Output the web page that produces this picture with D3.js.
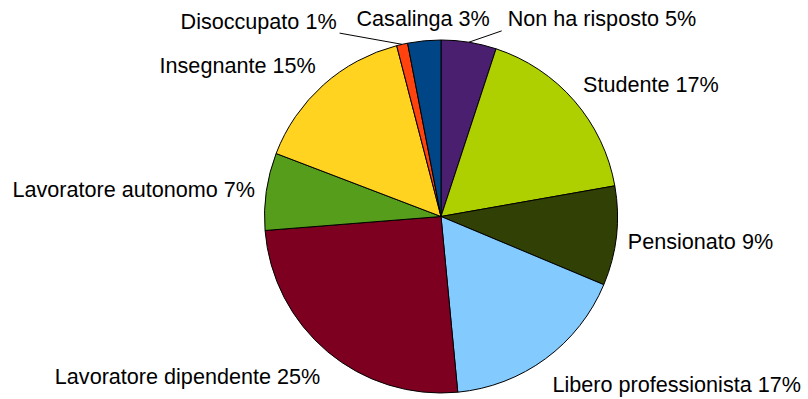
<!DOCTYPE html>
<html>
<head>
<meta charset="utf-8">
<script src="https://cdn.jsdelivr.net/npm/d3@7"></script>
<style>
  html, body { margin: 0; padding: 0; background: #ffffff; }
  svg { display: block; }
  text { font-family: "Liberation Sans", Arial, sans-serif; font-size: 21.6px; fill: #000; }
</style>
</head>
<body>
<svg id="chart" width="808" height="399"></svg>
<script>
// Professione dei rispondenti (percentuali)
const categories = [
  "Non ha risposto", "Studente", "Pensionato", "Libero professionista",
  "Lavoratore dipendente", "Lavoratore autonomo", "Insegnante",
  "Disoccupato", "Casalinga"
];
const percentages = [5, 17, 9, 17, 25, 7, 15, 1, 3];
const sliceColors = [
  "#4b1f6f", "#aecf00", "#314004", "#83caff",
  "#7e0021", "#579d1c", "#ffd320", "#ff420e", "#004586"
];
// Horizontal shift for labels of thin slices, which get a leader line
const leaderShift = { "Non ha risposto": 31, "Disoccupato": -60 };

const width = 808, height = 399;
const cx = 441, cy = 216.5, radius = 176.5;
const labelRadius = 188;

const svg = d3.select("#chart");
const g = svg.append("g").attr("transform", `translate(${cx},${cy})`);

const color = d3.scaleOrdinal().domain(categories).range(sliceColors);

const pie = d3.pie().sort(null).value(d => d.value);
const arcs = pie(categories.map((c, i) => ({ name: c, value: percentages[i] })));
const arc = d3.arc().innerRadius(0).outerRadius(radius);

g.selectAll("path.slice")
  .data(arcs)
  .join("path")
  .attr("class", "slice")
  .attr("d", arc)
  .attr("fill", d => color(d.data.name))
  .attr("stroke", "#000")
  .attr("stroke-width", 1)
  .attr("stroke-linejoin", "round");

// Labels placed just outside the rim, on the side of each slice's middle angle
arcs.forEach(d => {
  const mid = (d.startAngle + d.endAngle) / 2;
  const s = Math.sin(mid), c = Math.cos(mid);
  const px = s * labelRadius, py = -c * labelRadius;
  const label = `${d.data.name} ${d.data.value}%`;
  const shift = leaderShift[d.data.name];

  if (shift !== undefined) {
    const ex = px + shift, ey = py;
    g.append("line")
      .attr("x1", s * radius).attr("y1", -c * radius)
      .attr("x2", ex).attr("y2", ey)
      .attr("stroke", "#000").attr("stroke-width", 1);
    g.append("text")
      .attr("x", shift > 0 ? ex + 6 : ex - 3)
      .attr("y", ey - 4.5)
      .attr("text-anchor", shift > 0 ? "start" : "end")
      .text(label);
    return;
  }

  const anchor = Math.abs(s) < 0.2 ? "middle" : (s > 0 ? "start" : "end");
  const dy = Math.max(-3, 10 - 18 * c);
  g.append("text")
    .attr("x", px)
    .attr("y", py + dy)
    .attr("text-anchor", anchor)
    .text(label);
});
</script>
</body>
</html>
